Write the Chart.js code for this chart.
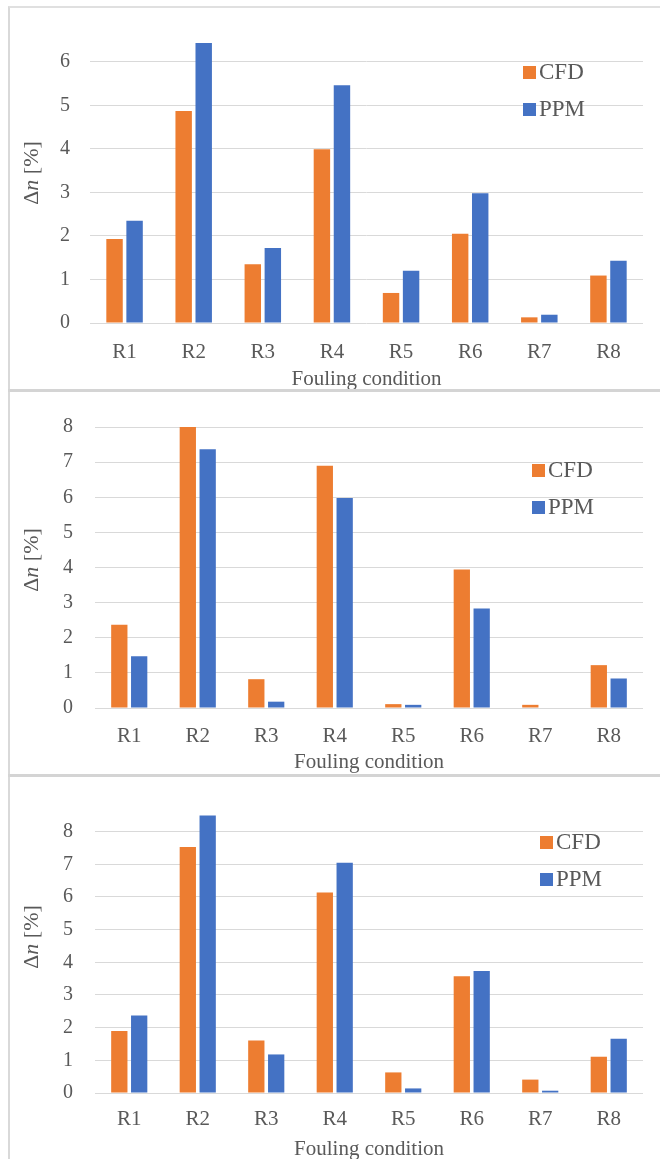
<!DOCTYPE html>
<html>
<head>
<meta charset="utf-8">
<script src="https://cdn.jsdelivr.net/npm/chart.js@4"></script>
<style>
  html, body { margin: 0; padding: 0; background: #fff; }
  body { width: 660px; height: 1159px; position: relative; overflow: hidden; }
  .frame { position: absolute; left: 8px; top: 6px; width: 652px; height: 1153px;
           border-left: 2px solid #d9d9d9; border-top: 2px solid #e0e0e0; }
  .sep { position: absolute; left: 8px; width: 652px; height: 3px; background: #d4d4d4; }
  canvas { position: absolute; left: 10px; }
</style>
</head>
<body>
<div class="frame"></div>
<div class="sep" style="top:389px"></div>
<div class="sep" style="top:774px"></div>
<canvas id="chartTop" width="650" height="381" style="top:8px"></canvas>
<canvas id="chartMid" width="650" height="381" style="top:393px"></canvas>
<canvas id="chartBottom" width="650" height="381" style="top:778px"></canvas>
<script>
const categories = ["R1", "R2", "R3", "R4", "R5", "R6", "R7", "R8"];
const seriesNames = ["CFD", "PPM"];

// top panel
const cfdTop = [1.93, 4.87, 1.35, 3.99, 0.69, 2.05, 0.13, 1.09];
const ppmTop = [2.35, 6.43, 1.72, 5.46, 1.20, 2.98, 0.19, 1.43];
const ticksTop = [0, 1, 2, 3, 4, 5, 6];

// middle panel
const cfdMid = [2.37, 8.00, 0.82, 6.90, 0.11, 3.94, 0.09, 1.22];
const ppmMid = [1.47, 7.37, 0.18, 5.98, 0.09, 2.83, 0.00, 0.84];
const ticksMid = [0, 1, 2, 3, 4, 5, 6, 7, 8];

// bottom panel
const cfdBottom = [1.90, 7.53, 1.61, 6.14, 0.63, 3.57, 0.41, 1.11];
const ppmBottom = [2.37, 8.49, 1.18, 7.05, 0.14, 3.73, 0.07, 1.66];
const ticksBottom = [0, 1, 2, 3, 4, 5, 6, 7, 8];

const ORANGE = "#ED7D31";
const BLUE = "#4472C4";
const TEXT = "#595959";
const SERIF = "'Liberation Serif', 'Times New Roman', serif";

// legend drawn inside the plot, like the Excel original
const insideLegend = {
  id: "insideLegend",
  afterDraw(chart, args, opts) {
    const ctx = chart.ctx;
    ctx.save();
    ctx.font = "23px " + SERIF;
    ctx.textBaseline = "middle";
    chart.data.datasets.forEach((ds, i) => {
      const y = opts.y + i * opts.gap;
      ctx.fillStyle = ds.backgroundColor;
      ctx.fillRect(opts.x, y - 6, 13, 13);
      ctx.fillStyle = TEXT;
      ctx.fillText(ds.label, opts.x + 16, y + 1);
    });
    ctx.restore();
  }
};

// y title with italic n
const yTitle = {
  id: "yTitle",
  afterDraw(chart, args, opts) {
    const ctx = chart.ctx;
    const parts = [["Δ", "22px"], ["n", "italic 22px"], [" [%]", "22px"]];
    ctx.save();
    ctx.translate(opts.x, opts.y);
    ctx.rotate(-Math.PI / 2);
    ctx.fillStyle = TEXT;
    ctx.textBaseline = "middle";
    let total = 0;
    parts.forEach(([t, f]) => { ctx.font = f + " " + SERIF; total += ctx.measureText(t).width; });
    let x = -total / 2;
    parts.forEach(([t, f]) => {
      ctx.font = f + " " + SERIF;
      ctx.fillText(t, x, 0);
      x += ctx.measureText(t).width;
    });
    ctx.restore();
  }
};

function makeChart(id, cfd, ppm, tickValues, yMax, layout) {
  const ctx = document.getElementById(id).getContext("2d");
  return new Chart(ctx, {
    type: "bar",
    data: {
      labels: categories,
      datasets: [
        { label: seriesNames[0], data: cfd, backgroundColor: ORANGE,
          categoryPercentage: 0.58, barPercentage: 0.82 },
        { label: seriesNames[1], data: ppm, backgroundColor: BLUE,
          categoryPercentage: 0.58, barPercentage: 0.82 }
      ]
    },
    options: {
      responsive: false,
      animation: false,
      devicePixelRatio: 1,
      layout: { padding: { left: 0, right: 17, top: layout.top, bottom: 0 } },
      plugins: {
        legend: { display: false },
        tooltip: { enabled: false },
        insideLegend: { x: layout.legendX, y: layout.legendY, gap: 37 },
        yTitle: { x: 22, y: layout.titleY }
      },
      scales: {
        x: {
          grid: { display: false },
          border: { display: false },
          ticks: { color: TEXT, font: { family: SERIF, size: 21 }, padding: layout.xPad },
          title: { display: true, text: "Fouling condition", color: TEXT,
                   font: { family: SERIF, size: 21, lineHeight: 1 },
                   padding: { top: 0, bottom: layout.titlePad } },
          afterFit(scale) { scale.height = 66; }
        },
        y: {
          min: 0,
          max: yMax,
          grid: { color: "#d9d9d9", drawTicks: false },
          border: { display: false },
          ticks: { color: TEXT, font: { family: SERIF, size: 20 }, padding: layout.tickPad },
          afterBuildTicks(scale) { scale.ticks = tickValues.map((v) => ({ value: v })); },
          afterFit(scale) { scale.width = layout.axisWidth; }
        }
      }
    },
    plugins: [insideLegend, yTitle]
  });
}

makeChart("chartTop", cfdTop, ppmTop, ticksTop, 6.5,
  { top: 20, axisWidth: 80, tickPad: 20, xPad: 9, titlePad: -1,
    legendX: 513, legendY: 64, titleY: 165 });
makeChart("chartMid", cfdMid, ppmMid, ticksMid, 8,
  { top: 19, axisWidth: 85, tickPad: 22, xPad: 8, titlePad: 1,
    legendX: 522, legendY: 77, titleY: 167 });
makeChart("chartBottom", cfdBottom, ppmBottom, ticksBottom, 8.6,
  { top: 15, axisWidth: 85, tickPad: 22, xPad: 6, titlePad: -1,
    legendX: 530, legendY: 64, titleY: 159 });
</script>
</body>
</html>
